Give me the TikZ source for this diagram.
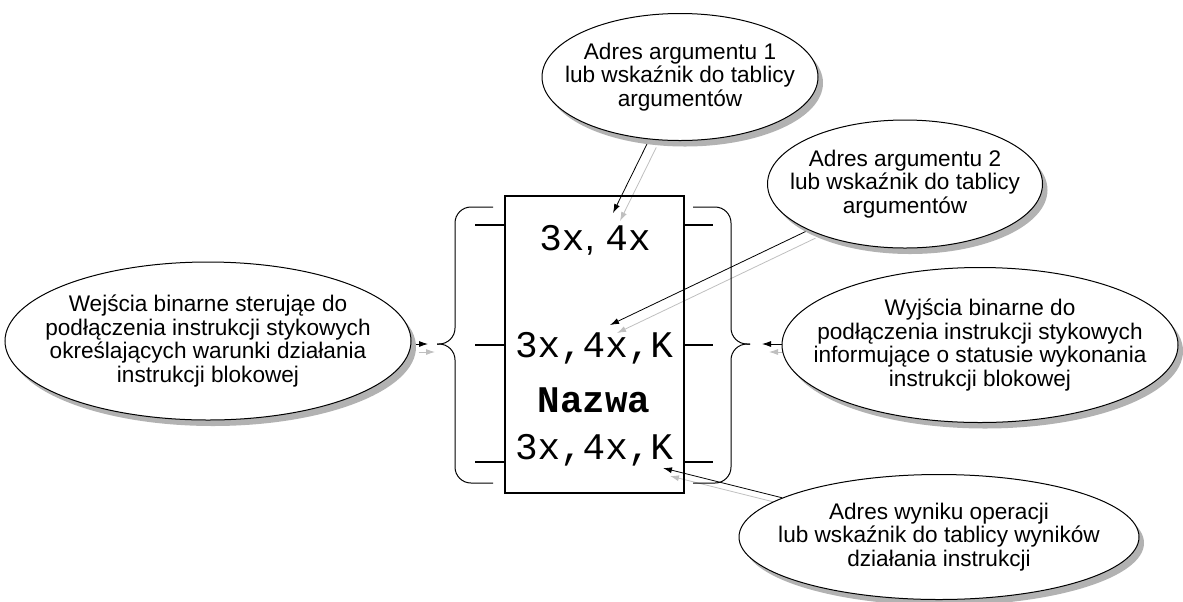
\documentclass[tikz,border=0pt]{standalone}
\usepackage{fontspec}
\setmainfont{Liberation Sans}
\newfontfamily\mono{Liberation Mono}
\usetikzlibrary{shapes.geometric,shadows,arrows.meta,backgrounds}

\begin{document}
\begin{tikzpicture}[x=0.5pt,y=-0.5pt,
  bubble/.style={ellipse,draw,fill=white,line width=0.5pt,
    drop shadow={shadow xshift=2.5pt,shadow yshift=-3pt,fill=black!30,opacity=1}},
  opis/.style={align=center,font=\fontsize{11.3}{11.9}\selectfont},
  kod/.style={font=\mono\fontsize{18.8}{20}\selectfont},
  strz/.style={-{Latex[length=4.5pt,width=3pt]},line width=0.4pt,
    preaction={draw=black!25,transform canvas={shift={(3.5pt,-4pt)}}}},
  pin/.style={line width=0.8pt},
  klamra/.style={line width=0.5pt,rounded corners=8pt}]
  \useasboundingbox (0,0) rectangle (1183,601);

  % blok instrukcji
  \node[draw,line width=0.8pt,minimum width=89.5pt,minimum height=148.5pt] (blok) at (594.5,344.5) {};
  \node[kod] (arg) at (595,240) {3x\rmfamily, \mono 4x};
  \node[kod] (wej) at (594,348) {3x,4x,K};
  \node[kod,font=\mono\bfseries\fontsize{18.8}{20}\selectfont] (nazwa) at (594,400) {Nazwa};
  \node[kod] (wyn) at (594,450) {3x,4x,K};
  \foreach \y in {225,345,462} {
    \draw[pin] (475,\y) -- (505,\y);
    \draw[pin] (684,\y) -- (713,\y);
  }

  % klamry
  \draw[klamra] (493,207) -- (455,207) -- (455,344) -- (437,344);
  \draw[klamra] (437,344) -- (455,344) -- (455,483) -- (493,483);
  \draw[klamra] (693,207) -- (731,207) -- (731,344) -- (750,344);
  \draw[klamra] (750,344) -- (731,344) -- (731,483) -- (693,483);

  % opisy
  \node[bubble,minimum width=203pt,minimum height=79pt] (wejscia) at (208,341) {};
  \node[opis] (wejsciaT) at (wejscia) {Wejścia binarne sterująe do\\podłączenia instrukcji stykowych\\określających warunki działania\\instrukcji blokowej};
  \node[bubble,minimum width=198pt,minimum height=77.5pt] (wyjscia) at (980,345) {};
  \node[opis] (wyjsciaT) at (wyjscia) {Wyjścia binarne do\\podłączenia instrukcji stykowych\\informujące o statusie wykonania\\instrukcji blokowej};
  \node[bubble,minimum width=138pt,minimum height=63.5pt] (arg1) at (680,77) {};
  \node[opis] (arg1T) at (arg1) {Adres argumentu 1\\lub wskaźnik do tablicy\\argumentów};
  \node[bubble,minimum width=137.5pt,minimum height=64pt] (arg2) at (905,184) {};
  \node[opis] (arg2T) at (arg2) {Adres argumentu 2\\lub wskaźnik do tablicy\\argumentów};
  \node[bubble,minimum width=200pt,minimum height=62.5pt] (wynik) at (939,537) {};
  \node[opis] (wynikT) at (wynik) {Adres wyniku operacji\\lub wskaźnik do tablicy wyników\\działania instrukcji};

  % strzalki
  \coordinate (t1) at (613,213);
  \coordinate (t2) at (610,325);
  \coordinate (t3) at (663,468);
  \coordinate (tL) at (428,344);
  \coordinate (tR) at (762,344);
  \begin{scope}[on background layer]
    \draw[strz] (arg1) -- (t1);
    \draw[strz] (arg2) -- (t2);
    \draw[strz] (wynik) -- (t3);
    \draw[strz] (wejscia.east |- tL) -- (tL);
    \draw[strz] (wyjscia.west |- tR) -- (tR);
  \end{scope}
\end{tikzpicture}
\end{document}
